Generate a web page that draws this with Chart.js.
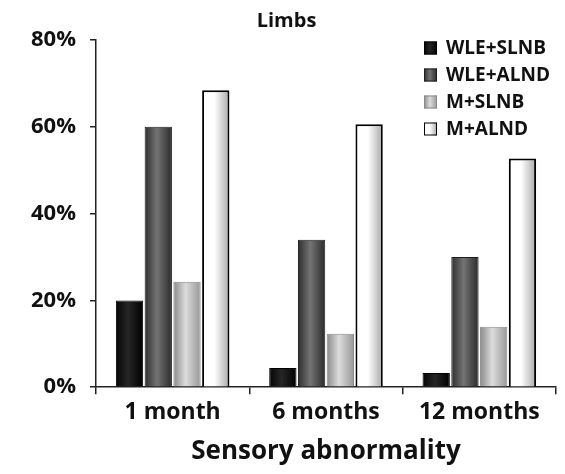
<!DOCTYPE html>
<html>
<head>
<meta charset="utf-8">
<script src="https://cdn.jsdelivr.net/npm/chart.js@4/dist/chart.umd.min.js"></script>
<style>
html,body{margin:0;padding:0;background:#fff;}
#wrap{width:565px;height:474px;}
</style>
</head>
<body>
<div id="wrap"><canvas id="c" width="565" height="474"></canvas></div>
<script>
const categories = ['1 month', '6 months', '12 months'];
const seriesNames = ['WLE+SLNB', 'WLE+ALND', 'M+SLNB', 'M+ALND'];
const wleSlnb = [20, 4.4, 3.3];
const wleAlnd = [60, 34, 30];
const mSlnb = [24.3, 12.3, 13.9];
const mAlnd = [68.4, 60.6, 52.7];
const yTicks = [0, 20, 40, 60, 80];

const shades = [
  {stops: ['#050505', '#262626', '#000000'], border: '#000000', bw: 1},
  {stops: ['#2e2e2e', '#747474', '#2a2a2a'], border: '#1e1e1e', bw: 1},
  {stops: ['#8a8a8a', '#dcdcdc', '#979797'], border: '#8a8a8a', bw: 1},
  {stops: ['#ffffff', '#ffffff', '#a8a8a8'], border: '#000000', bw: 2}
];
const values = [wleSlnb, wleAlnd, mSlnb, mAlnd];
const FONT = '"Open Sans", sans-serif';

const shadePlugin = {
  id: 'shade',
  beforeDatasetsDraw(chart) {
    const ctx = chart.ctx;
    chart.data.datasets.forEach((ds, di) => {
      const meta = chart.getDatasetMeta(di);
      const s = shades[di];
      meta.data.forEach(el => {
        const w = el.width;
        const g = ctx.createLinearGradient(el.x - w / 2, 0, el.x + w / 2, 0);
        g.addColorStop(0, s.stops[0]);
        g.addColorStop(0.45, s.stops[1]);
        g.addColorStop(1, s.stops[2]);
        el.options = Object.assign({}, el.options, {backgroundColor: g});
      });
    });
  }
};

const legendPlugin = {
  id: 'customLegend',
  afterDraw(chart) {
    const ctx = chart.ctx;
    const x0 = 424, y0 = 48, step = 27, box = 13;
    ctx.save();
    ctx.font = 'bold 19px ' + FONT;
    ctx.textBaseline = 'middle';
    ctx.textAlign = 'left';
    chart.data.datasets.forEach((ds, i) => {
      const y = y0 + i * step;
      const s = shades[i];
      const g = ctx.createLinearGradient(x0, 0, x0 + box, 0);
      g.addColorStop(0, s.stops[0]);
      g.addColorStop(0.45, s.stops[1]);
      g.addColorStop(1, s.stops[2]);
      ctx.fillStyle = g;
      ctx.fillRect(x0, y - box / 2, box, box);
      ctx.strokeStyle = s.border;
      ctx.lineWidth = 1;
      ctx.strokeRect(x0 + 0.5, y - box / 2 + 0.5, box - 1, box - 1);
      ctx.fillStyle = '#111';
      ctx.fillText(ds.label, x0 + 22, y + 1);
    });
    ctx.restore();
  }
};

const datasets = seriesNames.map((name, i) => ({
  label: name,
  data: values[i],
  backgroundColor: shades[i].stops[1],
  borderColor: shades[i].border,
  borderWidth: shades[i].bw,
  borderSkipped: 'bottom',
  barPercentage: 0.95,
  categoryPercentage: 0.75
}));

new Chart(document.getElementById('c'), {
  type: 'bar',
  data: {labels: categories, datasets: datasets},
  plugins: [shadePlugin, legendPlugin],
  options: {
    responsive: false,
    animation: false,
    layout: {padding: {left: 17, right: 9, top: 0, bottom: 7}},
    plugins: {
      legend: {display: false},
      tooltip: {enabled: false},
      title: {
        display: true,
        text: 'Limbs',
        color: '#111',
        font: {family: FONT, size: 20, weight: 'bold'},
        padding: {top: 9, bottom: 7}
      }
    },
    scales: {
      x: {
        grid: {display: true, drawOnChartArea: false, drawTicks: true, tickLength: 7, color: '#222', lineWidth: 1.5, offset: true},
        border: {display: true, color: '#222', width: 1.5},
        ticks: {color: '#111', font: {family: FONT, size: 23, weight: 'bold'}, padding: 4},
        title: {display: true, text: 'Sensory abnormality', color: '#111', font: {family: FONT, size: 26, weight: 'bold'}, padding: {top: 6, bottom: 0}}
      },
      y: {
        min: 0, max: 80,
        afterBuildTicks(scale) { scale.ticks = yTicks.map(v => ({value: v})); },
        grid: {display: true, drawOnChartArea: false, drawTicks: true, tickLength: 6, color: '#222', lineWidth: 1.5},
        border: {display: true, color: '#222', width: 1.5},
        ticks: {color: '#111', font: {family: FONT, size: 22, weight: 'bold'}, padding: 14, callback: v => v + '%'}
      }
    }
  }
});
</script>
</body>
</html>
